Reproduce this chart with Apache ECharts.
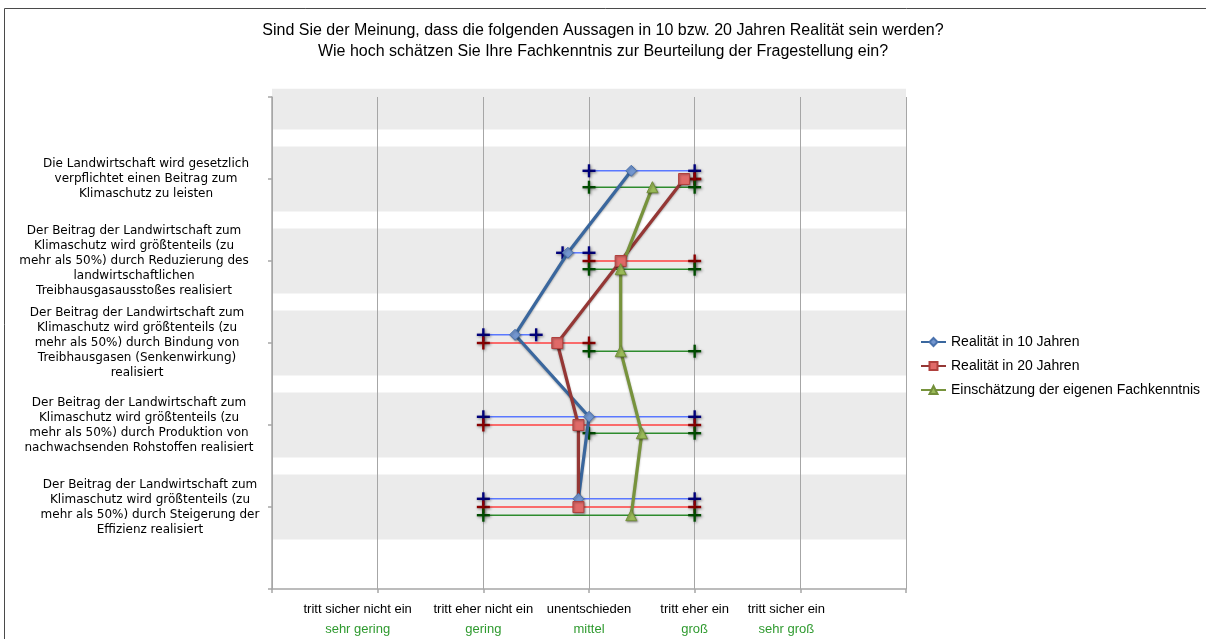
<!DOCTYPE html>
<html>
<head>
<meta charset="utf-8">
<script src="https://cdn.jsdelivr.net/npm/echarts@6/dist/echarts.min.js"></script>
<style>
  html, body { margin: 0; padding: 0; background: #fff; }
  #chart { width: 1206px; height: 639px; }
</style>
</head>
<body>
<div id="chart"></div>
<script>
// Statements (top to bottom)
const statements = [
  'Die Landwirtschaft wird gesetzlich\nverpflichtet einen Beitrag zum\nKlimaschutz zu leisten',
  'Der Beitrag der Landwirtschaft zum\nKlimaschutz wird größtenteils (zu\nmehr als 50%) durch Reduzierung des\nlandwirtschaftlichen\nTreibhausgasausstoßes realisiert',
  'Der Beitrag der Landwirtschaft zum\nKlimaschutz wird größtenteils (zu\nmehr als 50%) durch Bindung von\nTreibhausgasen (Senkenwirkung)\nrealisiert',
  'Der Beitrag der Landwirtschaft zum\nKlimaschutz wird größtenteils (zu\nmehr als 50%) durch Produktion von\nnachwachsenden Rohstoffen realisiert',
  'Der Beitrag der Landwirtschaft zum\nKlimaschutz wird größtenteils (zu\nmehr als 50%) durch Steigerung der\nEffizienz realisiert'
];

// Answer scale 1..5
const scaleLabels = ['tritt sicher nicht ein', 'tritt eher nicht ein', 'unentschieden', 'tritt eher ein', 'tritt sicher ein'];
const knowledgeLabels = ['sehr gering', 'gering', 'mittel', 'groß', 'sehr groß'];

// Realität in 10 Jahren: mean and spread per statement
const real10 = [3.4, 2.8, 2.3, 3.0, 2.9];
const real10Low = [3, 2.75, 2, 2, 2];
const real10High = [4, 3, 2.5, 4, 4];

// Realität in 20 Jahren
const real20 = [3.9, 3.3, 2.7, 2.9, 2.9];
const real20Low = [4, 3, 2, 2, 2];
const real20High = [4, 4, 3, 4, 4];

// Einschätzung der eigenen Fachkenntnis
const expertise = [3.6, 3.3, 3.3, 3.5, 3.4];
const expertiseLow = [3, 3, 3, 3, 2];
const expertiseHigh = [4, 4, 4, 4, 4];

// vertical position of each statement row (top row = 5)
const rowPos = [5, 4, 3, 2, 1];
// background stripes
const stripeRows = [6, 5, 4, 3, 2, 1];

const seriesNames = ['Realität in 10 Jahren', 'Realität in 20 Jahren', 'Einschätzung der eigenen Fachkenntnis'];

// ---- layout / styling ----
const rowOffset = [0.1, 0, -0.1];
const stripeHalf = 0.395;
const stripeTop = 6.1;
const yLabelShift = [9, -3, 0, 2, 13];
const xLabelShift = [-20, 0, 0, 0, -14];

function pts(values, k) {
  return values.map((v, i) => [v, rowPos[i] + rowOffset[k]]);
}
function bars(lo, hi, k) {
  return lo.map((l, i) => [l, hi[i], rowPos[i] + rowOffset[k]]);
}

function pad(shift) {
  return shift >= 0 ? [0, 0, 0, 2 * shift] : [0, -2 * shift, 0, 0];
}

const yRich = {};
yLabelShift.forEach((s, i) => {
  yRich['s' + i] = { fontFamily: 'DejaVu Sans', fontSize: 12, lineHeight: 15, color: '#000', align: 'center', padding: pad(s) };
});
const xRich = {};
xLabelShift.forEach((s, i) => {
  xRich['a' + i] = { fontFamily: 'Liberation Sans', fontSize: 13, lineHeight: 20, color: '#000', padding: pad(s) };
  xRich['g' + i] = { fontFamily: 'Liberation Sans', fontSize: 13, lineHeight: 20, color: '#2f9a2f', padding: pad(s) };
});

function errorSeries(data, lineColor, crossColor) {
  return {
    type: 'custom',
    silent: true,
    z: 2,
    data: data,
    encode: { x: [0, 1], y: 2 },
    renderItem: function (params, api) {
      const y = api.value(2);
      const a = api.coord([api.value(0), y]);
      const b = api.coord([api.value(1), y]);
      const arm = 6.5;
      const crossStyle = {
        stroke: crossColor, lineWidth: 2.4,
        shadowBlur: 3, shadowColor: 'rgba(0,0,0,0.45)', shadowOffsetX: 1, shadowOffsetY: 1
      };
      const cross = (p) => [
        { type: 'line', shape: { x1: p[0] - arm, y1: p[1], x2: p[0] + arm, y2: p[1] }, style: crossStyle },
        { type: 'line', shape: { x1: p[0], y1: p[1] - arm, x2: p[0], y2: p[1] + arm }, style: crossStyle }
      ];
      return {
        type: 'group',
        children: [
          { type: 'line', shape: { x1: a[0], y1: a[1], x2: b[0], y2: b[1] }, style: { stroke: lineColor, lineWidth: 1.5 } }
        ].concat(cross(a), cross(b))
      };
    }
  };
}

function lineSeries(name, data, color, symbol, size, fill, border) {
  return {
    name: name,
    type: 'line',
    z: 3,
    data: data,
    symbol: symbol,
    symbolSize: size,
    lineStyle: { color: color, width: 3.2, shadowBlur: 2, shadowColor: 'rgba(0,0,0,0.3)', shadowOffsetY: 1 },
    itemStyle: { color: fill, borderColor: border, borderWidth: 1, shadowBlur: 2, shadowColor: 'rgba(0,0,0,0.35)', shadowOffsetX: 1, shadowOffsetY: 1 },
    emphasis: { disabled: true }
  };
}

const chart = echarts.init(document.getElementById('chart'), null, { renderer: 'canvas' });

chart.setOption({
  animation: false,
  backgroundColor: '#fff',
  title: {
    text: 'Sind Sie der Meinung, dass die folgenden Aussagen in 10 bzw. 20 Jahren Realität sein werden?\nWie hoch schätzen Sie Ihre Fachkenntnis zur Beurteilung der Fragestellung ein?',
    left: 'center',
    top: 20,
    padding: 0,
    textStyle: { fontFamily: 'Liberation Sans', fontSize: 16, fontWeight: 'normal', color: '#000', lineHeight: 21 }
  },
  legend: {
    data: seriesNames,
    orient: 'vertical',
    left: 915,
    top: 330,
    itemWidth: 25,
    itemHeight: 10,
    itemGap: 10,
    textStyle: { fontFamily: 'Liberation Sans', fontSize: 14, color: '#000' },
    selectedMode: false
  },
  graphic: [{
    type: 'rect',
    silent: true,
    shape: { x: 4.5, y: 8.5, width: 1300, height: 700 },
    style: { fill: 'none', stroke: '#4a4a4a', lineWidth: 1 }
  }],
  grid: { left: 272, right: 300, top: 97, bottom: 50 },
  xAxis: {
    type: 'value',
    min: 0, max: 6, interval: 1,
    axisLine: { show: true, lineStyle: { color: '#a6a6a6', width: 1.5 } },
    axisTick: { show: true, length: 4, lineStyle: { color: '#a6a6a6', width: 1.5 } },
    splitLine: { show: true, lineStyle: { color: '#a6a6a6', width: 1 } },
    axisLabel: {
      margin: 10,
      formatter: function (v) {
        const i = Math.round(v) - 1;
        if (i < 0 || i >= scaleLabels.length) return '';
        return '{a' + i + '|' + scaleLabels[i] + '}\n{g' + i + '|' + knowledgeLabels[i] + '}';
      },
      rich: xRich
    }
  },
  yAxis: {
    type: 'value',
    min: 0, max: 6, interval: 1,
    axisLine: { show: true, lineStyle: { color: '#a6a6a6', width: 1.5 } },
    axisTick: { show: true, length: 4, lineStyle: { color: '#a6a6a6', width: 1.5 } },
    splitLine: { show: false },
    axisLabel: {
      margin: 135,
      align: 'center',
      formatter: function (v) {
        const i = rowPos.indexOf(Math.round(v));
        if (i < 0) return '';
        return '{s' + i + '|' + statements[i] + '}';
      },
      rich: yRich
    }
  },
  series: [
    {
      type: 'custom',
      silent: true,
      z: -1,
      clip: false,
      data: stripeRows.map(c => [c]),
      encode: { y: 0 },
      renderItem: function (params, api) {
        const c = api.value(0);
        const p1 = api.coord([0, Math.min(c + stripeHalf, stripeTop)]);
        const p2 = api.coord([6, c - stripeHalf]);
        return {
          type: 'rect',
          shape: { x: p1[0], y: p1[1], width: p2[0] - p1[0], height: p2[1] - p1[1] },
          style: { fill: '#ebebeb' }
        };
      }
    },
    errorSeries(bars(real10Low, real10High, 0), '#5a78ff', '#00007a'),
    errorSeries(bars(real20Low, real20High, 1), '#ff4040', '#8a0000'),
    errorSeries(bars(expertiseLow, expertiseHigh, 2), '#2e8b2e', '#004d00'),
    lineSeries(seriesNames[0], pts(real10, 0), '#3a679e', 'diamond', 11, '#7396cf', '#4a72ad'),
    lineSeries(seriesNames[1], pts(real20, 1), '#953735', 'rect', 11, '#e06a68', '#b0403d'),
    lineSeries(seriesNames[2], pts(expertise, 2), '#77933c', 'triangle', 11, '#9bbb59', '#738f3a')
  ]
});
</script>
</body>
</html>
